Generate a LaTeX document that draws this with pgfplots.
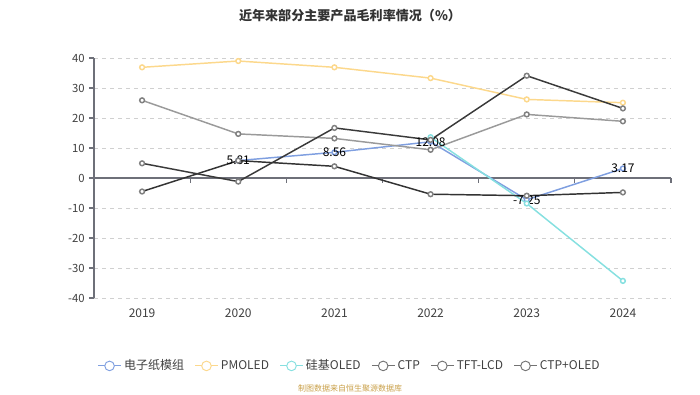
\documentclass[border=0pt]{standalone}
\usepackage{fontspec}
\setmainfont{Noto Sans CJK SC}
\usepackage{pgfplots}
\pgfplotsset{compat=1.18}
\definecolor{cblue}{HTML}{7F9FE0}
\definecolor{cyel}{HTML}{FCD88C}
\definecolor{ccyan}{HTML}{86E0E0}
\definecolor{cdark}{HTML}{333333}
\definecolor{cdark2}{HTML}{3A3A3A}
\definecolor{cgray}{HTML}{9A9A9A}
\definecolor{cgrid}{HTML}{D0D0D0}
\definecolor{caxis}{HTML}{6E7079}
\definecolor{csrc}{HTML}{C9A049}
\begin{document}
\begin{tikzpicture}
\path[use as bounding box] (0,0) rectangle (525pt,295.5pt);
\node[font=\fontsize{9.8pt}{11pt}\selectfont\bfseries, text=black!80] at (262.5pt,284pt) {近年来部分主要产品毛利率情况（\%）};
\begin{axis}[
  at={(70.5pt,72pt)}, anchor=south west,
  scale only axis, width=432.75pt, height=180pt,
  xmin=-0.5, xmax=5.5, ymin=-40, ymax=40,
  xtick={0,1,2,3,4,5}, xticklabels={2019,2020,2021,2022,2023,2024},
  ytick={-40,-30,-20,-10,0,10,20,30,40},
  axis x line*=bottom, axis y line*=left,
  x axis line style={draw=none},
  xtick style={draw=none},
  y axis line style={caxis, line width=0.8pt},
  ytick style={caxis, line width=0.8pt},
  tick align=outside, major tick length=3.5pt,
  ymajorgrids, grid style={cgrid, dashed, line width=0.6pt},
  yticklabel style={font=\fontsize{8.5pt}{9pt}\selectfont, text=black!75},
  xticklabel style={font=\fontsize{9pt}{10pt}\selectfont, text=black!75, yshift=-1pt},
  /pgf/number format/assume math mode=true,
  clip=false,
  every axis plot/.append style={line width=1.1pt, mark=*, mark size=1.8pt, mark options={fill=white, line width=0.6pt}},
  legend columns=6,
  legend style={at={(0.4437,-0.283)}, anchor=center, draw=none, fill=none,
    font=\fontsize{9pt}{10pt}\selectfont, text=black!75,
    /tikz/every even column/.append style={column sep=6pt}},
  legend image code/.code={
    \draw[line width=0.7pt] (0pt,0pt) -- (17pt,0pt);
    \draw[line width=0.7pt, fill=white] (8.5pt,0pt) circle (3.6pt);
  },
]
% x axis line at zero
\draw[caxis, line width=0.8pt] (axis cs:-0.5,0) -- (axis cs:5.5,0);
\pgfplotsinvokeforeach{0.5,1.5,2.5,3.5,4.5,5.5}{
  \draw[caxis, line width=0.8pt] (axis cs:#1,0) -- ++(0pt,-3.5pt);
}
\addplot[cblue, mark options={fill=white, draw=cblue},
  nodes near coords={\pgfmathprintnumber[fixed,fixed zerofill,precision=2]{\pgfplotspointmeta}},
  every node near coord/.append style={anchor=center, text=black, font=\fontsize{9pt}{10pt}\selectfont}]
  coordinates {(1,5.81) (2,8.56) (3,12.08) (4,-7.25) (5,3.17)};
\addlegendentry{电子纸模组}
\addplot[cyel, mark options={fill=white, draw=cyel}]
  coordinates {(0,36.9) (1,39.0) (2,36.9) (3,33.3) (4,26.2) (5,25.1)};
\addlegendentry{PMOLED}
\addplot[ccyan, mark options={fill=white, draw=ccyan}]
  coordinates {(3,13.6) (4,-8.5) (5,-34.3)};
\addlegendentry{硅基OLED}
\addplot[cdark, mark options={fill=white, draw=gray}, legend image post style={draw=black!55}]
  coordinates {(0,-4.5) (1,5.8) (2,3.9) (3,-5.4) (4,-5.9) (5,-4.8)};
\addlegendentry{CTP}
\addplot[cgray, mark options={fill=white, draw=gray}, legend image post style={draw=black!55}]
  coordinates {(0,25.9) (1,14.7) (2,13.2) (3,9.4) (4,21.2) (5,18.9)};
\addlegendentry{TFT-LCD}
\addplot[cdark2, mark options={fill=white, draw=gray}, legend image post style={draw=black!55}]
  coordinates {(0,4.9) (1,-1.2) (2,16.7) (3,12.7) (4,34.1) (5,23.2)};
\addlegendentry{CTP+OLED}
\end{axis}
\node[font=\fontsize{6pt}{7pt}\selectfont, text=csrc] at (262.5pt,4.5pt) {制图数据来自恒生聚源数据库};
\end{tikzpicture}
\end{document}
